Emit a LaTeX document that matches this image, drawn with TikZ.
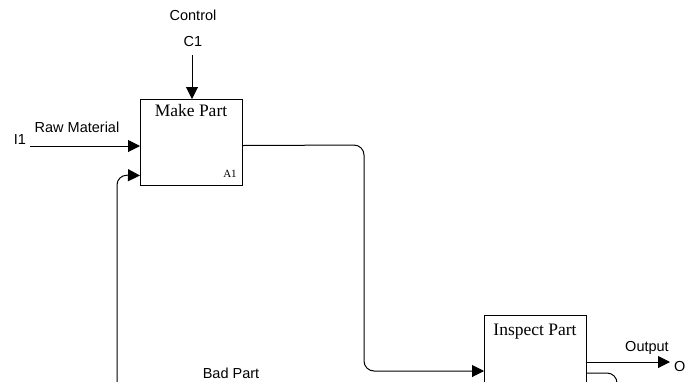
\documentclass[tikz,border=0pt]{standalone}
\usepackage{fontspec}
\setmainfont{Liberation Serif}
\setsansfont{Liberation Sans}
\usetikzlibrary{arrows.meta}
\begin{document}
\begin{tikzpicture}[x=1pt,y=-1pt,
  actbox/.style={draw, line width=1pt, minimum width=102pt, anchor=north west, inner sep=0pt},
  title/.style={font=\fontsize{17.5}{19}\selectfont, anchor=base, inner sep=0pt},
  idx/.style={font=\fontsize{11}{12}\selectfont, anchor=base, inner sep=0pt},
  lbl/.style={font=\sffamily\fontsize{14.5}{16}\selectfont, anchor=base, inner sep=0pt},
  flow/.style={line width=1pt, -{Triangle[length=12pt,width=12pt]}},
  roundpath/.style={rounded corners=10pt}]
\useasboundingbox (0,0) rectangle (688,381);
\clip (0,0) rectangle (688,381);

% activity boxes
\node[actbox, minimum height=86pt] (A1) at (140,99) {};
\node[actbox, minimum height=90pt] (A2) at (484,315) {};
\node[title] (A1t) at (191,116) {Make Part};
\node[idx] (A1n) at (230,177) {A1};
\node[title] (A2t) at (535,335) {Inspect Part};

% boundary labels
\node[lbl] (ctl) at (193,20) {Control};
\node[lbl] (c1) at (193,46.5) {C1};
\node[lbl] (i1) at (20,144.5) {I1};
\node[lbl] (rawlbl) at (77,132) {Raw Material};
\node[lbl] (outlbl) at (647,351) {Output};
\node[lbl, anchor=west] (o1) at (674,366.5) {O};
\node[lbl] (badlbl) at (231,378) {Bad Part};

% control and input arrows into Make Part
\coordinate (c1end) at (192,55);
\draw[flow] (c1end) -- (c1end |- A1.north);
\coordinate (i1end) at (30,146);
\draw[flow] (i1end) -- (i1end -| A1.west);

% Make Part output to Inspect Part input
\coordinate (A1out) at ([yshift=-3pt]A1.east);
\coordinate (A2in) at ([yshift=-56pt]A2.north west);
\draw[flow, roundpath] (A1out) -- (364,145) -- (364,371) -- (A2in);

% Inspect Part output
\coordinate (A2out) at ([yshift=-47pt]A2.north east);
\coordinate (oend) at (670,362);
\draw[flow] (A2out) -- (oend);

% bad part returned to Make Part
\coordinate (A2bad) at ([yshift=-58pt]A2.north east);
\coordinate (A1back) at ([yshift=-33pt]A1.west);
\draw[flow, roundpath] (A2bad) -- (617,373) -- (617,430) -- (117,430) -- (117,175) -- (A1back);
\end{tikzpicture}
\end{document}
